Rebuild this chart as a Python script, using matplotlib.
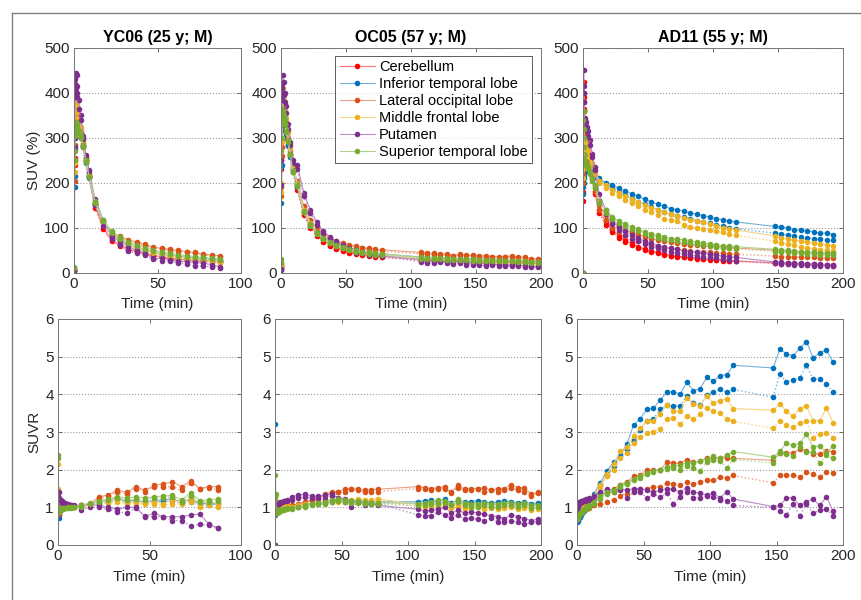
import numpy as np
import matplotlib
matplotlib.use("Agg")
import matplotlib.pyplot as plt
from matplotlib.colors import to_rgb
from matplotlib.lines import Line2D

plt.rcParams['font.family'] = ['Liberation Sans', 'DejaVu Sans']

regions = ["Cerebellum", "Inferior temporal lobe", "Lateral occipital lobe",
           "Middle frontal lobe", "Putamen", "Superior temporal lobe"]
colors = ["#FF0000", "#0072BD", "#D95319", "#EDB120", "#7E2F8E", "#77AC30"]
titles = ["YC06 (25 y; M)", "OC05 (57 y; M)", "AD11 (55 y; M)"]

# frame mid times (min)
early_t = [0.1, 0.3, 0.5, 0.75, 1.0, 1.5, 2.0, 3.0, 4.0, 5.5, 7.0, 9.0]
yc_t = early_t + [12.5, 17.5, 22.5, 27.5, 32.5, 37.5, 42.5, 47.5, 52.5, 57.5,
                  62.5, 67.5, 72.5, 77.5, 82.5, 87.5]
oc_t = early_t + [12.5, 17.5, 22.5, 27.5, 32.5, 37.5, 42.5, 47.5, 52.5, 57.5,
                  62.5, 67.5, 72.5, 77.5,
                  107.5, 112.5, 117.5, 122.5, 127.5, 132.5, 137.5, 142.5, 147.5,
                  152.5, 157.5, 162.5, 167.5, 172.5, 177.5, 182.5, 187.5, 192.5, 197.5]
ad_t = early_t + [12.5, 17.5, 22.5, 27.5, 32.5, 37.5, 42.5, 47.5, 52.5, 57.5,
                  62.5, 67.5, 72.5, 77.5, 82.5, 87.5, 92.5, 97.5, 102.5, 107.5,
                  112.5, 117.5,
                  147.5, 152.5, 157.5, 162.5, 167.5, 172.5, 177.5, 182.5, 187.5, 192.5]

# ---------------- YC06 SUV (%) : _a solid, _b dotted ----------------
yc_suv_cb_a = [8, 255, 340, 360, 352, 345, 338, 325, 310, 285, 250, 215,
               150, 100, 70, 62, 52, 48, 42, 39, 35, 32, 30, 29, 27, 27, 25, 24]
yc_suv_cb_b = [6, 240, 330, 352, 345, 340, 332, 320, 305, 280, 246, 212,
               145, 98, 72, 60, 50, 46, 41, 38, 34, 31, 29, 28, 27, 26, 24, 23]
yc_suv_it_a = [5, 190, 275, 315, 330, 330, 325, 315, 302, 282, 248, 214,
               155, 113, 86, 75, 63, 57, 50, 46, 42, 39, 36, 34, 32, 31, 29, 28]
yc_suv_it_b = [4, 215, 300, 325, 332, 328, 322, 312, 300, 280, 245, 210,
               150, 110, 84, 72, 61, 55, 48, 44, 40, 37, 34, 32, 31, 29, 28, 27]
yc_suv_lo_a = [9, 205, 285, 340, 355, 350, 343, 330, 315, 288, 253, 218,
               158, 115, 88, 82, 73, 68, 63, 57, 54, 52, 50, 47, 45, 42, 39, 38]
yc_suv_lo_b = [7, 250, 320, 350, 352, 346, 340, 326, 310, 285, 250, 215,
               152, 110, 85, 78, 70, 65, 60, 56, 52, 49, 47, 45, 43, 40, 37, 35]
yc_suv_mf_a = [10, 225, 330, 370, 385, 378, 365, 345, 325, 295, 256, 220,
               158, 115, 88, 76, 64, 57, 50, 46, 42, 38, 35, 33, 31, 29, 27, 26]
yc_suv_mf_b = [8, 245, 345, 380, 375, 368, 358, 340, 320, 292, 252, 217,
               152, 110, 84, 72, 60, 54, 48, 43, 39, 36, 33, 31, 29, 27, 25, 24]
yc_suv_pu_a = [5, 280, 400, 430, 445, 440, 415, 385, 350, 305, 262, 228,
               165, 118, 82, 70, 58, 50, 44, 32, 32, 28, 26, 24, 23, 21, 18, 13]
yc_suv_pu_b = [4, 300, 390, 420, 410, 400, 390, 365, 340, 298, 258, 224,
               150, 105, 76, 62, 48, 43, 39, 30, 27, 25, 22, 20, 15, 15, 13, 11]
yc_suv_st_a = [12, 250, 305, 325, 335, 332, 326, 316, 304, 284, 250, 216,
               160, 118, 92, 80, 68, 62, 55, 50, 46, 43, 40, 38, 36, 34, 32, 31]
yc_suv_st_b = [10, 270, 315, 330, 328, 322, 318, 310, 300, 280, 246, 212,
               155, 114, 88, 76, 65, 59, 52, 48, 44, 41, 38, 36, 34, 32, 30, 29]

# ---------------- YC06 SUVR ----------------
yc_suvr_it_a = [0.75, 0.72, 0.8, 0.88, 0.92, 0.95, 0.97, 0.98, 0.98, 1.0, 1.0, 1.0,
                1.05, 1.1, 1.15, 1.2, 1.22, 1.18, 1.18, 1.15, 1.18, 1.2, 1.22, 1.15, 1.2, 1.12, 1.08, 1.12]
yc_suvr_it_b = [0.8, 0.88, 0.9, 0.92, 0.95, 0.96, 0.98, 0.98, 1.0, 1.0, 1.0, 1.0,
                1.02, 1.08, 1.12, 1.15, 1.2, 1.15, 1.15, 1.12, 1.15, 1.15, 1.18, 1.12, 1.15, 1.1, 1.05, 1.1]
yc_suvr_lo_a = [0.85, 0.82, 0.84, 0.94, 1.0, 1.0, 1.0, 1.0, 1.0, 1.0, 1.0, 1.02,
                1.05, 1.1, 1.28, 1.33, 1.45, 1.4, 1.55, 1.45, 1.58, 1.62, 1.68, 1.55, 1.7, 1.5, 1.55, 1.55]
yc_suvr_lo_b = [0.9, 1.0, 0.97, 0.98, 1.0, 1.0, 1.0, 1.0, 1.0, 1.0, 1.0, 1.0,
                1.0, 1.08, 1.25, 1.3, 1.4, 1.35, 1.5, 1.42, 1.55, 1.55, 1.55, 1.45, 1.65, 1.5, 1.52, 1.47]
yc_suvr_mf_a = [2.15, 0.9, 0.95, 1.02, 1.05, 1.05, 1.05, 1.05, 1.05, 1.03, 1.02, 1.02,
                1.05, 1.1, 1.15, 1.2, 1.22, 1.12, 1.15, 1.12, 1.15, 1.1, 1.2, 1.12, 1.25, 1.12, 1.15, 1.1]
yc_suvr_mf_b = [1.5, 0.95, 0.98, 1.05, 1.05, 1.05, 1.05, 1.05, 1.04, 1.03, 1.02, 1.02,
                1.0, 1.05, 1.1, 1.12, 1.15, 1.1, 1.1, 1.08, 1.1, 1.05, 1.1, 1.08, 1.15, 1.02, 1.05, 1.0]
yc_suvr_pu_a = [1.3, 1.4, 1.2, 1.18, 1.2, 1.2, 1.18, 1.15, 1.12, 1.1, 1.05, 1.05,
                1.05, 1.08, 1.05, 1.0, 0.95, 1.0, 1.0, 0.75, 0.85, 0.75, 0.75, 0.75, 0.8, 0.82, 0.55, 0.45]
yc_suvr_pu_b = [1.2, 1.25, 1.15, 1.12, 1.15, 1.12, 1.1, 1.1, 1.08, 1.05, 1.05, 1.03,
                0.92, 1.0, 1.0, 0.95, 0.88, 0.85, 0.98, 0.78, 0.75, 0.75, 0.65, 0.65, 0.5, 0.55, 0.52, 0.45]
yc_suvr_st_a = [2.4, 1.0, 0.9, 0.92, 0.95, 0.96, 0.96, 0.97, 0.98, 1.0, 1.0, 1.0,
                1.05, 1.12, 1.18, 1.22, 1.28, 1.25, 1.28, 1.25, 1.28, 1.3, 1.32, 1.2, 1.38, 1.18, 1.2, 1.22]
yc_suvr_st_b = [2.3, 0.95, 0.88, 0.9, 0.93, 0.94, 0.95, 0.96, 0.97, 0.98, 0.99, 1.0,
                1.02, 1.1, 1.15, 1.2, 1.25, 1.2, 1.22, 1.2, 1.25, 1.25, 1.28, 1.15, 1.3, 1.15, 1.15, 1.18]

# ---------------- OC05 SUV (%) ----------------
oc_suv_cb_a = [15, 250, 340, 365, 360, 350, 340, 325, 310, 290, 265, 230,
               190, 132, 104, 86, 72, 62, 55, 50, 46, 43, 41, 39, 37, 36,
               30, 29, 29, 28, 28, 27, 27, 26, 26, 25, 25, 24, 24, 24, 23, 23, 23, 22, 22]
oc_suv_cb_b = [10, 230, 330, 355, 352, 345, 335, 320, 305, 285, 260, 225,
               185, 128, 100, 82, 69, 60, 53, 48, 44, 41, 39, 37, 35, 34,
               28, 28, 27, 27, 26, 26, 26, 25, 25, 24, 24, 23, 23, 23, 22, 22, 22, 21, 21]
oc_suv_it_a = [8, 155, 240, 300, 330, 335, 330, 320, 305, 285, 262, 228,
               195, 138, 108, 90, 78, 70, 63, 58, 54, 50, 48, 45, 43, 42,
               35, 34, 34, 33, 33, 32, 32, 31, 31, 30, 30, 29, 29, 28, 28, 27, 27, 25, 25]
oc_suv_it_b = [12, 235, 300, 330, 340, 335, 328, 315, 300, 282, 258, 225,
               190, 134, 105, 88, 76, 68, 61, 56, 52, 48, 46, 43, 41, 40,
               33, 32, 32, 31, 31, 30, 30, 29, 29, 28, 28, 27, 27, 26, 26, 25, 25, 24, 24]
oc_suv_lo_a = [20, 170, 260, 330, 360, 365, 355, 340, 322, 300, 270, 235,
               205, 148, 118, 100, 87, 78, 71, 66, 62, 59, 56, 54, 52, 51,
               45, 44, 43, 42, 42, 38, 42, 39, 39, 38, 38, 36, 36, 36, 37, 35, 35, 31, 31]
oc_suv_lo_b = [15, 190, 280, 345, 370, 360, 350, 335, 318, 295, 266, 232,
               198, 142, 113, 96, 83, 75, 68, 63, 59, 56, 54, 51, 49, 48,
               42, 41, 40, 40, 40, 37, 40, 37, 37, 36, 34, 34, 33, 34, 35, 33, 31, 28, 29]
oc_suv_mf_a = [25, 200, 300, 370, 400, 410, 395, 370, 345, 315, 280, 242,
               200, 140, 110, 91, 78, 70, 62, 57, 53, 49, 47, 45, 43, 42,
               33, 33, 32, 31, 31, 30, 30, 29, 28, 28, 27, 27, 26, 26, 26, 25, 25, 23, 23]
oc_suv_mf_b = [18, 180, 290, 360, 390, 395, 385, 362, 340, 310, 276, 238,
               195, 136, 106, 88, 75, 67, 60, 55, 51, 47, 45, 43, 41, 40,
               31, 31, 30, 29, 29, 28, 28, 27, 26, 26, 25, 25, 24, 24, 24, 23, 23, 22, 22]
oc_suv_pu_a = [5, 195, 330, 395, 420, 440, 425, 400, 370, 330, 290, 250,
               240, 178, 140, 112, 93, 80, 70, 62, 56, 51, 47, 43, 40, 38,
               28, 26, 26, 26, 27, 23, 25, 22, 22, 21, 20, 19, 18, 17, 18, 17, 16, 14, 15]
oc_suv_pu_b = [8, 250, 350, 385, 410, 400, 395, 380, 355, 320, 285, 245,
               230, 170, 132, 106, 88, 76, 66, 58, 52, 44, 46, 40, 39, 37,
               24, 22, 22, 24, 22, 19, 21, 18, 18, 17, 16, 17, 15, 15, 15, 14, 12, 13, 13]
oc_suv_st_a = [30, 270, 330, 355, 365, 360, 350, 340, 320, 295, 265, 228,
               198, 138, 108, 90, 77, 69, 62, 57, 53, 50, 47, 45, 43, 42,
               34, 33, 33, 32, 32, 31, 31, 30, 30, 29, 29, 28, 28, 27, 27, 26, 26, 24, 24]
oc_suv_st_b = [22, 300, 345, 360, 355, 350, 342, 330, 312, 290, 262, 225,
               192, 134, 104, 86, 74, 66, 59, 54, 50, 47, 44, 42, 40, 39,
               31, 31, 30, 30, 29, 29, 28, 28, 27, 27, 26, 26, 25, 25, 25, 24, 24, 22, 22]

# ---------------- OC05 SUVR ----------------
oc_suvr_it_a = [0.8, 3.2, 0.85, 0.85, 0.88, 0.9, 0.92, 0.94, 0.95, 0.97, 0.98, 1.0,
                1.02, 1.05, 1.08, 1.1, 1.12, 1.15, 1.18, 1.2, 1.2, 1.18, 1.18, 1.16, 1.15, 1.15,
                1.15, 1.18, 1.2, 1.15, 1.22, 1.12, 1.18, 1.15, 1.15, 1.18, 1.15, 1.12, 1.15, 1.18, 1.15, 1.12, 1.15, 1.1, 1.12]
oc_suvr_it_b = [0.82, 1.0, 0.9, 0.88, 0.9, 0.92, 0.93, 0.95, 0.96, 0.98, 1.0, 1.0,
                1.0, 1.02, 1.05, 1.08, 1.1, 1.12, 1.15, 1.16, 1.16, 1.15, 1.14, 1.13, 1.12, 1.12,
                1.12, 1.1, 1.15, 1.12, 1.15, 1.08, 1.12, 1.1, 1.1, 1.12, 1.1, 1.08, 1.1, 1.12, 1.1, 1.08, 1.1, 1.05, 1.08]
oc_suvr_lo_a = [1.3, 0.85, 0.85, 0.88, 0.92, 0.95, 0.97, 0.98, 1.0, 1.02, 1.03, 1.05,
                1.05, 1.1, 1.15, 1.2, 1.25, 1.36, 1.4, 1.42, 1.48, 1.5, 1.48, 1.45, 1.47, 1.48,
                1.55, 1.52, 1.5, 1.52, 1.55, 1.38, 1.6, 1.48, 1.5, 1.5, 1.52, 1.45, 1.5, 1.5, 1.6, 1.52, 1.52, 1.35, 1.4]
oc_suvr_lo_b = [1.1, 0.9, 0.88, 0.9, 0.93, 0.95, 0.96, 0.98, 1.0, 1.0, 1.02, 1.03,
                1.02, 1.07, 1.12, 1.17, 1.22, 1.3, 1.38, 1.4, 1.42, 1.48, 1.45, 1.42, 1.42, 1.42,
                1.5, 1.48, 1.47, 1.48, 1.5, 1.4, 1.52, 1.45, 1.45, 1.48, 1.4, 1.45, 1.42, 1.45, 1.52, 1.45, 1.4, 1.3, 1.38]
oc_suvr_mf_a = [1.2, 0.95, 0.95, 0.98, 1.0, 1.02, 1.02, 1.03, 1.03, 1.03, 1.04, 1.05,
                1.02, 1.05, 1.08, 1.1, 1.12, 1.15, 1.18, 1.2, 1.2, 1.2, 1.22, 1.2, 1.2, 1.22,
                1.08, 1.05, 1.05, 1.08, 1.1, 1.02, 1.08, 1.0, 1.02, 1.05, 1.0, 1.02, 1.0, 1.02, 1.05, 1.0, 1.02, 0.98, 1.0]
oc_suvr_mf_b = [1.05, 0.92, 0.93, 0.96, 0.98, 1.0, 1.0, 1.02, 1.02, 1.02, 1.03, 1.04,
                1.0, 1.02, 1.05, 1.08, 1.1, 1.12, 1.15, 1.15, 1.15, 1.18, 1.18, 1.15, 1.15, 1.18,
                1.02, 1.0, 1.0, 1.02, 1.05, 0.98, 1.02, 0.95, 0.98, 1.0, 0.95, 0.98, 0.95, 0.98, 1.0, 0.95, 0.98, 0.92, 0.95]
oc_suvr_pu_a = [0.0, 0.85, 0.95, 1.0, 1.05, 1.1, 1.12, 1.12, 1.13, 1.15, 1.18, 1.2,
                1.28, 1.32, 1.35, 1.3, 1.3, 1.32, 1.35, 1.25, 1.22, 1.18, 1.15, 1.1, 1.08, 1.05,
                0.95, 0.9, 0.92, 0.95, 1.0, 0.85, 0.92, 0.85, 0.88, 0.85, 0.82, 0.78, 0.75, 0.7, 0.8, 0.75, 0.7, 0.65, 0.68]
oc_suvr_pu_b = [0.0, 0.9, 0.98, 1.02, 1.05, 1.08, 1.1, 1.1, 1.12, 1.14, 1.16, 1.18,
                1.2, 1.25, 1.28, 1.25, 1.25, 1.22, 1.3, 1.2, 1.15, 1.0, 1.15, 1.05, 1.12, 1.1,
                0.8, 0.78, 0.78, 0.88, 0.8, 0.72, 0.8, 0.68, 0.72, 0.68, 0.65, 0.72, 0.62, 0.62, 0.65, 0.6, 0.55, 0.6, 0.62]
oc_suvr_st_a = [7.0, 1.85, 1.35, 0.9, 0.88, 0.88, 0.88, 0.9, 0.92, 0.94, 0.96, 0.98,
                0.98, 1.02, 1.05, 1.1, 1.12, 1.15, 1.2, 1.22, 1.2, 1.18, 1.18, 1.15, 1.12, 1.12,
                1.1, 1.12, 1.15, 1.2, 1.18, 1.1, 1.22, 1.12, 1.1, 1.1, 1.12, 1.08, 1.1, 1.12, 1.12, 1.08, 1.12, 1.05, 1.05]
oc_suvr_st_b = [1.25, 1.3, 0.95, 0.85, 0.85, 0.86, 0.87, 0.88, 0.9, 0.92, 0.94, 0.96,
                0.95, 1.0, 1.02, 1.05, 1.08, 1.1, 1.15, 1.18, 1.15, 1.12, 1.12, 1.1, 1.08, 1.08,
                1.05, 1.05, 1.08, 1.1, 1.12, 1.05, 1.15, 1.05, 1.02, 1.02, 1.05, 1.0, 1.02, 1.05, 1.05, 1.0, 1.05, 0.98, 1.0]

# ---------------- AD11 SUV (%) ----------------
ad_suv_cb_a = [0, 180, 390, 425, 380, 340, 320, 300, 280, 250, 215, 180,
               140, 112, 95, 82, 72, 65, 58, 52, 48, 45, 42, 38, 37, 35, 34, 33, 31, 30, 29, 28, 27, 26,
               22, 21, 21, 20, 20, 19, 19, 18, 18, 17]
ad_suv_cb_b = [0, 160, 360, 400, 365, 330, 310, 290, 270, 242, 208, 175,
               132, 106, 90, 78, 69, 62, 55, 50, 46, 43, 40, 37, 35, 34, 32, 31, 30, 29, 28, 27, 26, 25,
               21, 20, 20, 19, 19, 18, 18, 17, 17, 16]
ad_suv_it_a = [0, 175, 200, 215, 222, 225, 228, 230, 230, 228, 222, 215,
               210, 200, 195, 188, 182, 175, 170, 163, 158, 152, 148, 142, 140, 137, 133, 130, 127, 124, 120, 118, 115, 113,
               103, 102, 100, 96, 95, 93, 91, 88, 88, 85]
ad_suv_it_b = [0, 190, 210, 220, 225, 228, 230, 228, 226, 224, 218, 212,
               205, 195, 188, 180, 172, 166, 158, 152, 146, 140, 135, 130, 127, 124, 120, 116, 113, 110, 106, 104, 100, 98,
               88, 86, 84, 82, 80, 78, 76, 75, 73, 72]
ad_suv_lo_a = [0, 200, 330, 360, 340, 320, 305, 290, 275, 250, 220, 190,
               150, 128, 112, 102, 95, 90, 85, 80, 76, 73, 70, 68, 66, 64, 62, 61, 60, 59, 58, 57, 56, 55,
               50, 49, 48, 47, 46, 45, 45, 44, 44, 43]
ad_suv_lo_b = [0, 220, 310, 340, 330, 310, 295, 280, 265, 240, 212, 182,
               140, 118, 100, 90, 82, 76, 70, 66, 62, 59, 56, 54, 52, 50, 48, 47, 46, 45, 44, 43, 42, 41,
               37, 36, 36, 35, 35, 34, 34, 33, 33, 32]
ad_suv_mf_a = [0, 230, 270, 285, 290, 292, 290, 285, 275, 262, 245, 225,
               205, 195, 185, 178, 170, 165, 158, 150, 145, 140, 135, 130, 126, 122, 118, 115, 112, 108, 105, 100, 98, 95,
               82, 78, 75, 72, 70, 68, 66, 64, 62, 60]
ad_suv_mf_b = [0, 210, 255, 272, 280, 282, 280, 275, 268, 255, 238, 220,
               200, 188, 178, 170, 162, 155, 148, 140, 135, 128, 120, 117, 115, 106, 102, 100, 98, 95, 92, 90, 86, 83,
               70, 67, 64, 61, 58, 56, 53, 51, 50, 48]
ad_suv_pu_a = [0, 330, 450, 415, 360, 345, 335, 325, 315, 295, 265, 235,
               175, 140, 118, 103, 92, 84, 77, 70, 65, 60, 57, 54, 52, 49, 47, 45, 43, 41, 39, 37, 36, 34,
               24, 23, 22, 22, 21, 20, 20, 19, 18, 18]
ad_suv_pu_b = [0, 300, 400, 380, 340, 330, 325, 315, 305, 285, 258, 228,
               160, 130, 108, 95, 84, 76, 70, 64, 58, 54, 50, 47, 44, 42, 40, 38, 36, 34, 32, 30, 29, 27,
               21, 20, 19, 18, 17, 17, 16, 16, 15, 15]
ad_suv_st_a = [0, 340, 360, 300, 265, 250, 245, 240, 235, 225, 210, 195,
               160, 140, 125, 115, 108, 102, 97, 90, 87, 83, 80, 76, 75, 73, 70, 68, 66, 64, 62, 60, 60, 58,
               52, 50, 50, 48, 47, 46, 45, 44, 44, 43]
ad_suv_st_b = [0, 250, 320, 280, 255, 245, 240, 235, 230, 220, 205, 188,
               155, 132, 120, 110, 103, 97, 92, 86, 82, 78, 74, 72, 70, 68, 65, 63, 61, 60, 58, 56, 55, 53,
               47, 46, 45, 44, 43, 42, 41, 40, 40, 39]

# ---------------- AD11 SUVR ----------------
ad_suvr_it_a = [0.6, 0.62, 0.65, 0.68, 0.7, 0.72, 0.75, 0.8, 0.85, 0.9, 0.95, 1.02,
                1.35, 1.65, 1.97, 2.2, 2.4, 2.68, 3.18, 3.35, 3.6, 3.63, 3.85, 4.05, 4.07, 4.0, 4.32, 4.1,
                4.15, 4.45, 4.35, 4.5, 4.52, 4.77,
                4.7, 5.2, 5.08, 5.02, 5.23, 5.4, 4.97, 5.1, 5.18, 4.85]
ad_suvr_it_b = [0.65, 0.68, 0.7, 0.72, 0.75, 0.78, 0.8, 0.84, 0.88, 0.92, 0.98, 1.05,
                1.3, 1.6, 1.85, 2.1, 2.35, 2.55, 2.8, 3.05, 3.3, 3.35, 3.6, 3.72, 3.68, 3.7, 3.95, 3.78,
                3.72, 3.98, 4.05, 4.13, 4.05, 4.13,
                3.92, 4.55, 4.32, 4.38, 4.43, 4.77, 4.4, 4.42, 4.28, 4.05]
ad_suvr_lo_a = [0.7, 0.72, 0.75, 0.78, 0.8, 0.82, 0.85, 0.88, 0.9, 0.95, 0.98, 1.02,
                1.1, 1.3, 1.4, 1.48, 1.6, 1.68, 1.82, 1.85, 2.0, 1.98, 2.0, 2.2, 2.18, 2.17, 2.25, 2.2,
                2.22, 2.32, 2.3, 2.3, 2.32, 2.3,
                2.25, 2.45, 2.45, 2.45, 2.55, 2.5, 2.42, 2.42, 2.5, 2.48]
ad_suvr_lo_b = [0.72, 0.75, 0.78, 0.8, 0.82, 0.84, 0.86, 0.88, 0.9, 0.92, 0.95, 0.98,
                1.05, 1.1, 1.15, 1.2, 1.3, 1.35, 1.45, 1.48, 1.5, 1.55, 1.55, 1.65, 1.63, 1.6, 1.68, 1.62,
                1.68, 1.72, 1.73, 1.8, 1.77, 1.85,
                1.65, 1.85, 1.87, 1.87, 1.8, 1.93, 1.88, 1.8, 1.95, 1.92]
ad_suvr_mf_a = [0.75, 0.78, 0.82, 0.85, 0.88, 0.9, 0.92, 0.95, 1.0, 1.05, 1.1, 1.15,
                1.3, 1.6, 1.88, 2.15, 2.5, 2.6, 2.9, 3.1, 3.28, 3.3, 3.48, 3.72, 3.55, 3.55, 3.9, 3.75,
                3.7, 3.95, 3.78, 3.83, 3.88, 3.62,
                3.58, 3.75, 3.55, 3.42, 3.62, 3.7, 3.3, 3.3, 3.63, 3.25]
ad_suvr_mf_b = [0.7, 0.75, 0.78, 0.82, 0.85, 0.88, 0.9, 0.92, 0.96, 1.0, 1.05, 1.1,
                1.25, 1.55, 1.82, 2.0, 2.3, 2.45, 2.72, 2.87, 2.98, 3.0, 3.08, 3.35, 3.37, 3.2, 3.43, 3.35,
                3.48, 3.65, 3.55, 3.5, 3.35, 3.28,
                3.1, 3.28, 3.18, 3.12, 3.25, 3.28, 2.85, 2.95, 2.98, 2.85]
ad_suvr_pu_a = [1.0, 1.05, 1.08, 1.1, 1.12, 1.14, 1.15, 1.16, 1.18, 1.2, 1.22, 1.25,
                1.3, 1.42, 1.48, 1.45, 1.5, 1.45, 1.5, 1.5, 1.45, 1.4, 1.45, 1.5, 1.48, 1.4, 1.52, 1.4,
                1.38, 1.32, 1.38, 1.25, 1.42, 1.22,
                1.02, 1.05, 1.25, 1.25, 1.05, 1.15, 1.22, 1.05, 1.28, 0.9]
ad_suvr_pu_b = [0.95, 1.0, 1.02, 1.05, 1.08, 1.1, 1.12, 1.14, 1.15, 1.16, 1.18, 1.2,
                1.2, 1.35, 1.4, 1.4, 1.45, 1.25, 1.4, 1.42, 1.25, 1.35, 1.28, 1.38, 1.1, 1.28, 1.4, 1.25,
                1.25, 1.3, 1.28, 1.2, 1.18, 1.05,
                1.0, 0.9, 0.8, 1.1, 0.78, 1.08, 0.85, 0.92, 0.95, 0.78]
ad_suvr_st_a = [0.8, 0.78, 0.78, 0.8, 0.8, 0.82, 0.84, 0.86, 0.9, 0.95, 1.0, 1.05,
                1.15, 1.3, 1.4, 1.45, 1.58, 1.65, 1.75, 1.82, 1.92, 1.97, 2.0, 2.08, 2.1, 2.12, 2.18, 2.18,
                2.22, 2.28, 2.35, 2.3, 2.38, 2.48,
                2.33, 2.5, 2.7, 2.65, 2.7, 2.95, 2.6, 2.63, 2.45, 2.62]
ad_suvr_st_b = [0.75, 0.72, 0.74, 0.76, 0.78, 0.8, 0.82, 0.84, 0.88, 0.92, 0.96, 1.0,
                1.1, 1.22, 1.35, 1.42, 1.55, 1.62, 1.72, 1.78, 1.88, 1.95, 2.0, 2.02, 2.05, 2.0, 2.1, 2.05,
                1.97, 2.2, 2.25, 2.22, 2.05, 2.27,
                2.18, 2.45, 2.42, 2.35, 2.6, 2.48, 2.48, 2.18, 2.4, 2.3]

FS = 11


def light(c, f=0.45):
    r, g, b = to_rgb(c)
    return (r + (1 - r) * f, g + (1 - g) * f, b + (1 - b) * f)


def draw(ax, t, series):
    # series: list of (solid, dotted) per region, None to skip
    for name, c, pair in zip(regions, colors, series):
        if pair is None:
            continue
        a, b = pair
        ax.plot(t, a, '-', color=light(c), lw=0.8, marker='o', ms=4.0,
                mfc=c, mec=c, mew=0, label=name)
        ax.plot(t, b, ':', color=light(c), lw=1.0, marker='o', ms=4.0,
                mfc=c, mec=c, mew=0)


def style(ax, xmax, ymax, ystep, h_px):
    ax.set_xlim(0, xmax)
    ax.set_ylim(0, ymax)
    ax.set_xticks(np.arange(0, xmax + 1, 50))
    ax.set_yticks(np.arange(0, ymax + ystep / 2, ystep))
    ax.tick_params(direction='in', top=True, right=True, length=3, width=0.6,
                   color='#555555', labelsize=FS, labelcolor='#262626', pad=3)
    for s in ax.spines.values():
        s.set_color('#777777')
        s.set_linewidth(0.7)
    ax.yaxis.grid(True, ls=':', color='#9a9a9a', lw=0.8)
    ax.set_axisbelow(True)
    ax.set_xlabel("Time (min)", fontsize=FS, color='#262626')
    ax.xaxis.set_label_coords(0.5, -24.5 / h_px)


W, H = 861, 600
fig = plt.figure(figsize=(W / 100, H / 100), dpi=100)

def px_axes(x0, x1, y0, y1):
    return fig.add_axes([x0 / W, 1 - y1 / H, (x1 - x0) / W, (y1 - y0) / H])

top = [px_axes(74, 241, 48, 272.7), px_axes(281, 541, 48, 272.7), px_axes(583, 843, 48, 272.7)]
bot = [px_axes(58, 241, 319, 545), px_axes(275, 541, 319, 545), px_axes(577, 843, 319, 545)]

suv_sets = [
    (yc_t, [(yc_suv_cb_a, yc_suv_cb_b), (yc_suv_it_a, yc_suv_it_b), (yc_suv_lo_a, yc_suv_lo_b),
            (yc_suv_mf_a, yc_suv_mf_b), (yc_suv_pu_a, yc_suv_pu_b), (yc_suv_st_a, yc_suv_st_b)], 100),
    (oc_t, [(oc_suv_cb_a, oc_suv_cb_b), (oc_suv_it_a, oc_suv_it_b), (oc_suv_lo_a, oc_suv_lo_b),
            (oc_suv_mf_a, oc_suv_mf_b), (oc_suv_pu_a, oc_suv_pu_b), (oc_suv_st_a, oc_suv_st_b)], 200),
    (ad_t, [(ad_suv_cb_a, ad_suv_cb_b), (ad_suv_it_a, ad_suv_it_b), (ad_suv_lo_a, ad_suv_lo_b),
            (ad_suv_mf_a, ad_suv_mf_b), (ad_suv_pu_a, ad_suv_pu_b), (ad_suv_st_a, ad_suv_st_b)], 200),
]
suvr_sets = [
    (yc_t, [None, (yc_suvr_it_a, yc_suvr_it_b), (yc_suvr_lo_a, yc_suvr_lo_b),
            (yc_suvr_mf_a, yc_suvr_mf_b), (yc_suvr_pu_a, yc_suvr_pu_b), (yc_suvr_st_a, yc_suvr_st_b)], 100),
    (oc_t, [None, (oc_suvr_it_a, oc_suvr_it_b), (oc_suvr_lo_a, oc_suvr_lo_b),
            (oc_suvr_mf_a, oc_suvr_mf_b), (oc_suvr_pu_a, oc_suvr_pu_b), (oc_suvr_st_a, oc_suvr_st_b)], 200),
    (ad_t, [None, (ad_suvr_it_a, ad_suvr_it_b), (ad_suvr_lo_a, ad_suvr_lo_b),
            (ad_suvr_mf_a, ad_suvr_mf_b), (ad_suvr_pu_a, ad_suvr_pu_b), (ad_suvr_st_a, ad_suvr_st_b)], 200),
]

for ax, (t, series, xmax), title in zip(top, suv_sets, titles):
    draw(ax, t, series)
    style(ax, xmax, 500, 100, 224.7)
    ax.set_title(title, fontsize=11.5, fontweight='bold', color='#000000', pad=4)
top[0].set_ylabel("SUV (%)", fontsize=FS, color='#262626')
top[0].yaxis.set_label_coords(-33 / 167, 0.5)

for ax, (t, series, xmax) in zip(bot, suvr_sets):
    draw(ax, t, series)
    style(ax, xmax, 6, 1, 226)
bot[0].set_ylabel("SUVR", fontsize=FS, color='#262626')
bot[0].yaxis.set_label_coords(-17 / 183, 0.5)

leg = top[1].legend(loc='upper right', bbox_to_anchor=(0.965, 0.965), borderaxespad=0,
                    fontsize=10.5, frameon=True, fancybox=False, handlelength=2.4,
                    labelspacing=0.2, handletextpad=0.3, borderpad=0.3)
leg.get_frame().set_edgecolor('#333333')
leg.get_frame().set_linewidth(0.7)

# outer frame (top and left edges visible)
fig.add_artist(Line2D([12 / W, 1], [1 - 12.7 / H, 1 - 12.7 / H], transform=fig.transFigure,
                      color='#808080', lw=1))
fig.add_artist(Line2D([12 / W, 12 / W], [0, 1 - 12.7 / H], transform=fig.transFigure,
                      color='#808080', lw=1))

fig.savefig("out.png", dpi=100)
